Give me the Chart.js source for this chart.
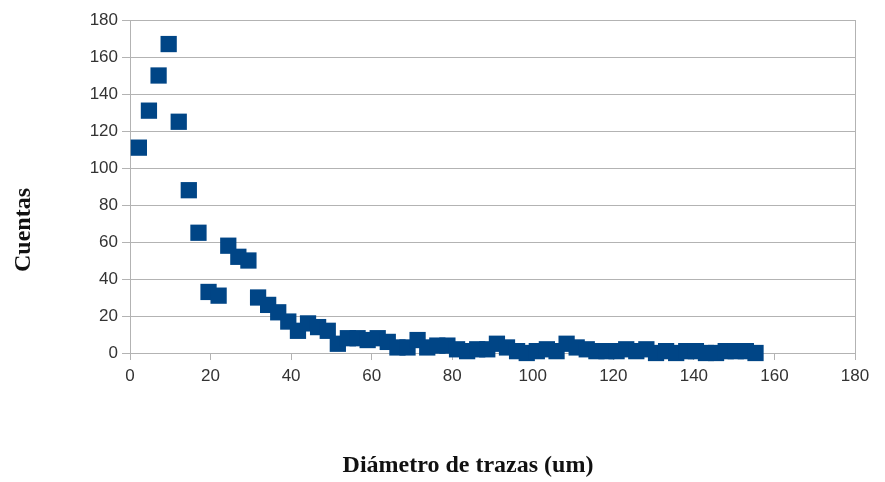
<!DOCTYPE html>
<html>
<head>
<meta charset="utf-8">
<script src="https://cdn.jsdelivr.net/npm/chart.js@4/dist/chart.umd.min.js"></script>
<style>
  html, body { margin: 0; padding: 0; background: #fff; }
  #wrap { width: 885px; height: 482px; }
</style>
</head>
<body>
<div id="wrap"><canvas id="chart" width="885" height="482"></canvas></div>
<script>
// Track diameter bins (um)
const diameters = [
    2.2, 4.7, 7.1, 9.6, 12.1, 14.6, 17.0, 19.5, 22.0, 24.4,
    26.9, 29.4, 31.8, 34.3, 36.8, 39.3, 41.7, 44.2, 46.7, 49.1,
    51.6, 54.1, 56.5, 59.0, 61.5, 64.0, 66.4, 68.9, 71.4, 73.8,
    76.3, 78.8, 81.2, 83.7, 86.2, 88.7, 91.1, 93.6, 96.1, 98.5,
    101.0, 103.5, 105.9, 108.4, 110.9, 113.4, 115.8, 118.3, 120.8, 123.2,
    125.7, 128.2, 130.6, 133.1, 135.6, 138.1, 140.5, 143.0, 145.5, 147.9,
    150.4, 152.9, 155.3
];

// Counts per bin
const counts = [
    111, 131, 150, 167, 125, 88, 65, 33, 31, 58,
    52, 50, 30, 26, 22, 17, 12, 16, 14, 12,
    5, 8, 8, 7, 8, 6, 3, 3, 7, 3,
    4, 4, 2, 1, 2, 2, 5, 3, 1, 0,
    1, 2, 1, 5, 3, 2, 1, 1, 1, 2,
    1, 2, 0, 1, 0, 1, 1, 0, 0, 1,
    1, 1, 0
];

const xTicks = [0, 20, 40, 60, 80, 100, 120, 140, 160, 180];
const yTicks = [0, 20, 40, 60, 80, 100, 120, 140, 160, 180];
const xTitle = 'Diámetro de trazas (um)';
const yTitle = 'Cuentas';

const points = diameters.map((d, i) => ({ x: d, y: counts[i] }));

const tickFont = { family: "'Liberation Sans', Arial, sans-serif", size: 17 };
const gridGray = '#b3b3b3';

// axis titles are off-centre in the original, so draw them by hand
const axisTitles = {
    id: 'axisTitles',
    afterDraw(chart) {
        const ctx = chart.ctx;
        ctx.save();
        ctx.font = 'bold 24px "Liberation Serif", "Times New Roman", serif';
        ctx.fillStyle = '#111';
        ctx.textAlign = 'center';
        ctx.textBaseline = 'middle';
        ctx.fillText(xTitle, 468, 466);
        ctx.translate(24, 230);
        ctx.rotate(-Math.PI / 2);
        ctx.fillText(yTitle, 0, 0);
        ctx.restore();
    }
};

new Chart(document.getElementById('chart').getContext('2d'), {
    type: 'scatter',
    data: {
        datasets: [{
            data: points,
            backgroundColor: '#004586',
            borderColor: '#004586',
            borderWidth: 0,
            pointStyle: 'rect',
            pointRadius: 11.5,
            pointHoverRadius: 11.5,
            clip: false
        }]
    },
    options: {
        responsive: false,
        animation: false,
        layout: { padding: { left: 0, right: 30, top: 20, bottom: 0 } },
        plugins: {
            legend: { display: false },
            tooltip: { enabled: false }
        },
        scales: {
            x: {
                type: 'linear',
                min: 0,
                max: 180,
                afterBuildTicks: scale => { scale.ticks = xTicks.map(v => ({ value: v })); },
                afterFit: scale => { scale.height = 129; },
                ticks: { font: tickFont, color: '#333', padding: 6, maxRotation: 0 },
                grid: {
                    color: ctx => (ctx.tick && (ctx.tick.value === 0 || ctx.tick.value === 180)) ? gridGray : 'rgba(0,0,0,0)',
                    tickColor: gridGray,
                    tickLength: 7
                },
                border: { color: gridGray }
            },
            y: {
                type: 'linear',
                min: 0,
                max: 180,
                afterBuildTicks: scale => { scale.ticks = yTicks.map(v => ({ value: v })); },
                afterFit: scale => { scale.width = 130; },
                ticks: { font: tickFont, color: '#333', padding: 4 },
                grid: { color: gridGray, tickColor: gridGray, tickLength: 8 },
                border: { color: gridGray }
            }
        }
    },
    plugins: [axisTitles]
});
</script>
</body>
</html>
